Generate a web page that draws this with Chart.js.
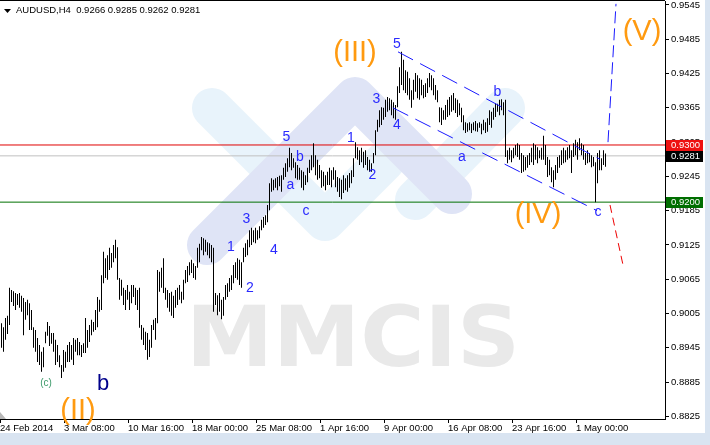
<!DOCTYPE html>
<html><head><meta charset="utf-8">
<script src="https://cdn.jsdelivr.net/npm/chart.js"></script>
<style>html,body{margin:0;padding:0;background:#d9e4f1;}canvas{display:block;}</style>
</head><body>
<canvas id="c" width="710" height="445"></canvas>
<script>
// ---- data ----
const symbolTitle = 'AUDUSD,H4';
const lastOHLC = [0.9266, 0.9285, 0.9262, 0.9281];

const highs = [
0.8988,0.8981,0.8997,0.9001,0.9050,0.9046,0.9044,0.9041,0.9039,0.9041,
0.9036,0.9032,0.9025,0.9029,0.9023,0.9011,0.8981,0.8976,0.8962,0.8950,
0.8938,0.8946,0.8973,0.8990,0.8983,0.8971,0.8971,0.8959,0.8950,0.8932,
0.8915,0.8941,0.8938,0.8950,0.8955,0.8950,0.8962,0.8959,0.8962,0.8955,
0.8950,0.8953,0.8997,0.8976,0.8985,0.8994,0.8990,0.9011,0.9034,0.9029,
0.9072,0.9113,0.9102,0.9107,0.9120,0.9111,0.9125,0.9134,0.9121,0.9067,
0.9064,0.9050,0.9046,0.9055,0.9043,0.9055,0.9055,0.9050,0.9046,0.9050,
0.8985,0.8980,0.8973,0.8971,0.8959,0.8985,0.8994,0.8997,0.9081,0.9078,
0.9085,0.9102,0.9050,0.9046,0.9041,0.9043,0.9036,0.9046,0.9050,0.9055,
0.9043,0.9064,0.9081,0.9088,0.9095,0.9099,0.9093,0.9088,0.9120,0.9127,
0.9139,0.9137,0.9134,0.9130,0.9128,0.9125,0.9120,0.9041,0.9037,0.9041,
0.9029,0.9034,0.9055,0.9058,0.9067,0.9072,0.9090,0.9095,0.9102,0.9099,
0.9095,0.9120,0.9128,0.9134,0.9151,0.9155,0.9151,0.9155,0.9151,0.9158,
0.9169,0.9174,0.9177,0.9195,0.9233,0.9242,0.9239,0.9242,0.9244,0.9246,
0.9247,0.9260,0.9268,0.9277,0.9295,0.9286,0.9277,0.9270,0.9265,0.9260,
0.9256,0.9253,0.9247,0.9260,0.9274,0.9282,0.9303,0.9282,0.9274,0.9265,
0.9256,0.9253,0.9247,0.9253,0.9260,0.9256,0.9261,0.9256,0.9244,0.9242,
0.9239,0.9247,0.9242,0.9247,0.9251,0.9256,0.9277,0.9305,0.9296,0.9291,
0.9295,0.9288,0.9291,0.9279,0.9274,0.9268,0.9286,0.9326,0.9344,0.9361,
0.9366,0.9365,0.9379,0.9384,0.9382,0.9379,0.9375,0.9370,0.9403,0.9436,
0.9463,0.9449,0.9431,0.9428,0.9417,0.9396,0.9414,0.9426,0.9422,0.9417,
0.9414,0.9405,0.9408,0.9417,0.9426,0.9422,0.9417,0.9405,0.9396,0.9366,
0.9365,0.9361,0.9370,0.9379,0.9384,0.9387,0.9391,0.9382,0.9379,0.9373,
0.9365,0.9352,0.9340,0.9338,0.9340,0.9337,0.9340,0.9342,0.9338,0.9340,
0.9337,0.9344,0.9340,0.9347,0.9361,0.9358,0.9365,0.9373,0.9372,0.9379,
0.9380,0.9375,0.9379,0.9291,0.9295,0.9291,0.9295,0.9300,0.9303,0.9300,
0.9286,0.9282,0.9279,0.9282,0.9286,0.9295,0.9303,0.9300,0.9296,0.9291,
0.9295,0.9316,0.9300,0.9279,0.9274,0.9261,0.9256,0.9265,0.9279,0.9282,
0.9291,0.9295,0.9291,0.9296,0.9300,0.9291,0.9303,0.9309,0.9305,0.9312,
0.9303,0.9300,0.9286,0.9291,0.9286,0.9282,0.9279,0.9270,0.9286,0.9291,
0.9277,0.9291,0.9285];

const lows = [
0.8945,0.8938,0.8959,0.8969,0.8985,0.9025,0.9018,0.9011,0.9020,0.9015,
0.9008,0.8967,0.8994,0.9002,0.8976,0.8976,0.8945,0.8938,0.8920,0.8915,
0.8903,0.8911,0.8953,0.8966,0.8948,0.8952,0.8938,0.8915,0.8920,0.8911,
0.8892,0.8903,0.8910,0.8920,0.8920,0.8924,0.8915,0.8938,0.8932,0.8932,
0.8929,0.8936,0.8936,0.8945,0.8955,0.8967,0.8973,0.8976,0.8981,0.9008,
0.9011,0.9058,0.9067,0.9064,0.9081,0.9085,0.9095,0.9102,0.9064,0.9029,
0.9036,0.9020,0.9011,0.9029,0.9011,0.9023,0.9034,0.9020,0.9011,0.8980,
0.8959,0.8950,0.8941,0.8924,0.8929,0.8945,0.8976,0.8959,0.8988,0.9043,
0.9050,0.9041,0.9029,0.9015,0.9008,0.9001,0.8997,0.9015,0.9020,0.9029,
0.9023,0.9029,0.9058,0.9060,0.9072,0.9076,0.9067,0.9064,0.9085,0.9095,
0.9116,0.9107,0.9113,0.9107,0.9102,0.9095,0.9008,0.9020,0.9002,0.9008,
0.8995,0.9001,0.9029,0.9034,0.9043,0.9046,0.9058,0.9067,0.9064,0.9055,
0.9050,0.9095,0.9104,0.9107,0.9121,0.9125,0.9130,0.9128,0.9134,0.9137,
0.9151,0.9155,0.9160,0.9165,0.9186,0.9218,0.9221,0.9225,0.9221,0.9228,
0.9218,0.9239,0.9244,0.9253,0.9261,0.9256,0.9260,0.9242,0.9239,0.9239,
0.9225,0.9221,0.9230,0.9235,0.9251,0.9256,0.9261,0.9247,0.9239,0.9242,
0.9225,0.9228,0.9221,0.9230,0.9230,0.9226,0.9239,0.9226,0.9218,0.9209,
0.9205,0.9216,0.9221,0.9218,0.9225,0.9233,0.9244,0.9277,0.9274,0.9265,
0.9270,0.9260,0.9265,0.9256,0.9253,0.9253,0.9268,0.9282,0.9323,0.9331,
0.9335,0.9344,0.9349,0.9358,0.9361,0.9352,0.9347,0.9344,0.9366,0.9391,
0.9405,0.9396,0.9391,0.9387,0.9379,0.9365,0.9379,0.9393,0.9382,0.9379,
0.9387,0.9382,0.9384,0.9391,0.9401,0.9396,0.9387,0.9379,0.9375,0.9340,
0.9335,0.9344,0.9344,0.9349,0.9352,0.9358,0.9361,0.9356,0.9349,0.9352,
0.9340,0.9326,0.9321,0.9323,0.9326,0.9321,0.9326,0.9324,0.9323,0.9330,
0.9319,0.9326,0.9321,0.9323,0.9335,0.9330,0.9344,0.9349,0.9358,0.9352,
0.9361,0.9352,0.9279,0.9268,0.9274,0.9270,0.9277,0.9282,0.9279,0.9274,
0.9251,0.9253,0.9256,0.9260,0.9265,0.9270,0.9265,0.9274,0.9268,0.9277,
0.9274,0.9274,0.9265,0.9244,0.9247,0.9235,0.9226,0.9239,0.9251,0.9260,
0.9265,0.9268,0.9270,0.9274,0.9277,0.9251,0.9279,0.9282,0.9274,0.9291,
0.9282,0.9274,0.9265,0.9268,0.9270,0.9261,0.9263,0.9200,0.9233,0.9256,
0.9256,0.9265,0.9262];

const dateLabels = ['24 Feb 2014','3 Mar 08:00','10 Mar 16:00','18 Mar 00:00','25 Mar 08:00',
  '1 Apr 16:00','9 Apr 00:00','16 Apr 08:00','23 Apr 16:00','1 May 00:00'];
const barsPerDateLabel = 32;
const yTickValues = [0.9545,0.9485,0.9425,0.9365,0.9305,0.9245,0.9185,0.9125,0.9065,0.9005,0.8945,0.8885,0.8825];

const levelResistance = 0.9300;
const levelSupport = 0.9200;
const lastClose = 0.9281;

// wave-channel and projection lines: [barIndex, price]
const channelUpper = [[198.25,0.9463],[299.25,0.9275]];
const channelLower = [[195.75,0.9365],[297.75,0.9185]];
const projectionUp = [[303.25,0.9305],[307.25,0.9547]];
const projectionDown = [[304.25,0.9195],[310.75,0.9090]];

// wave labels: [barIndex, price, text]
const minorLabels = [
 [197.75,0.9477,'5'],[187.5,0.9380,'3'],[197.75,0.9335,'4'],[174.75,0.9312,'1'],[185.5,0.9247,'2'],
 [142.5,0.9314,'5'],[149.25,0.9279,'b'],[144.5,0.9229,'a'],[152.25,0.9184,'c'],
 [122.5,0.9170,'3'],[114.75,0.9122,'1'],[136.25,0.9116,'4'],[124.25,0.9050,'2'],
 [248,0.9393,'b'],[230.25,0.9279,'a'],[298.25,0.9183,'c']];
const majorLabels = [[176.75,0.9461,'(III)'],[268.25,0.9178,'(IV)'],[320.25,0.9498,'(V)'],[38.25,0.8834,'(II)']];
const smallLabels = [[22.25,0.8883,'(c)']];
const navyLabels = [[50.75,0.8882,'b']];

// ---- chart ----
const X_MIN = -0.75, X_MAX = 331.75;
const Y_MIN = 0.882045, Y_MAX = 0.95520;
const FONT = '"Liberation Sans", Arial, sans-serif';

const bars = highs.map((h, i) => ({x: i, y: [lows[i], h]}));
const pts = arr => arr.map(p => ({x: p[0], y: p[1]}));
const hLine = v => [{x: X_MIN, y: v}, {x: X_MAX, y: v}];
const lineDs = (data, color, dash, order) => ({type: 'line', data, borderColor: color, borderWidth: 1,
  borderDash: dash, pointRadius: 0, fill: false, tension: 0, order});

const decor = {
  id: 'decor',
  beforeDraw(chart) {
    const ctx = chart.ctx, a = chart.chartArea;
    ctx.save();
    ctx.fillStyle = '#d9e4f1'; ctx.fillRect(0, 0, 710, 445);
    ctx.fillStyle = '#ffffff'; ctx.fillRect(0, 0, 705, 433);
    // watermark
    ctx.beginPath(); ctx.rect(a.left, a.top, a.right - a.left, a.bottom - a.top); ctx.clip();
    ctx.lineCap = 'round'; ctx.lineJoin = 'round'; ctx.lineWidth = 40;
    ctx.strokeStyle = '#e8f3fb';
    ctx.beginPath(); ctx.moveTo(212,108); ctx.lineTo(325,221); ctx.lineTo(385,161); ctx.stroke();
    ctx.beginPath(); ctx.moveTo(415,200); ctx.lineTo(505,108); ctx.stroke();
    ctx.strokeStyle = '#dfe4f6';
    ctx.beginPath(); ctx.moveTo(207,245); ctx.lineTo(355,97); ctx.lineTo(452,194); ctx.stroke();
    ctx.fillStyle = '#e9e9e9';
    ctx.font = 'bold 84px "DejaVu Sans"';
    ctx.textBaseline = 'alphabetic'; ctx.textAlign = 'left';
    const w = ctx.measureText('MMCIS').width;
    ctx.translate(186, 366); ctx.scale(334 / w, 1); ctx.fillText('MMCIS', 0, 0);
    ctx.restore();
  },
  afterDatasetsDraw(chart) {
    const ctx = chart.ctx, xs = chart.scales.x, ys = chart.scales.y;
    ctx.save();
    ctx.textAlign = 'center'; ctx.textBaseline = 'middle';
    const put = (list, font, color) => {
      ctx.font = font; ctx.fillStyle = color;
      list.forEach(l => ctx.fillText(l[2], xs.getPixelForValue(l[0]), ys.getPixelForValue(l[1])));
    };
    put(minorLabels, '14px ' + FONT, '#2a2aff');
    put(majorLabels, '29px ' + FONT, '#ff9a10');
    put(smallLabels, '10px ' + FONT, '#3c9a6a');
    put(navyLabels, '22px ' + FONT, '#00008b');
    ctx.restore();
  },
  afterDraw(chart) {
    const ctx = chart.ctx, a = chart.chartArea, ys = chart.scales.y;
    ctx.save();
    // top border
    ctx.fillStyle = '#000'; ctx.fillRect(0, 0, a.right, 1);
    // header
    ctx.beginPath(); ctx.moveTo(4, 9); ctx.lineTo(11, 9); ctx.lineTo(7.5, 13); ctx.closePath(); ctx.fill();
    ctx.font = '9.5px ' + FONT; ctx.textBaseline = 'middle'; ctx.textAlign = 'left';
    ctx.fillText(symbolTitle + '  ' + lastOHLC.map(v => v.toFixed(4)).join(' '), 16, 10.5);
    // price tags
    const tag = (v, bg) => {
      const y = Math.round(ys.getPixelForValue(v));
      ctx.fillStyle = bg; ctx.fillRect(a.right + 1, y - 5, 37, 11);
      ctx.fillStyle = '#fff'; ctx.fillText(v.toFixed(4), a.right + 6, y + 0.5);
    };
    tag(levelResistance, '#ee1111');
    tag(lastClose, '#000000');
    tag(levelSupport, '#006e00');
    // shift marker
    ctx.fillStyle = '#b8b8b8';
    ctx.beginPath(); ctx.moveTo(0, a.bottom - 7); ctx.lineTo(6, a.bottom); ctx.lineTo(0, a.bottom); ctx.closePath(); ctx.fill();
    ctx.restore();
  }
};

new Chart(document.getElementById('c'), {
  type: 'bar',
  data: {
    datasets: [
      lineDs(hLine(levelResistance), '#e00000', [], 5),
      lineDs(hLine(lastClose), '#c0c0c0', [], 5),
      lineDs(hLine(levelSupport), '#007000', [], 5),
      {type: 'bar', data: bars, backgroundColor: '#000', borderWidth: 0, barThickness: 1, inflateAmount: 0, order: 3},
      lineDs(pts(channelUpper), '#1a1aff', [17, 8], 1),
      lineDs(pts(channelLower), '#1a1aff', [17, 8], 1),
      lineDs(pts(projectionUp), '#1a1aff', [12, 5], 1),
      lineDs(pts(projectionDown), '#ee0000', [8, 5], 1)
    ]
  },
  options: {
    responsive: false, animation: false, devicePixelRatio: 1,
    layout: {padding: {left: 0, top: 1, right: 5, bottom: 12}},
    plugins: {legend: {display: false}, tooltip: {enabled: false}},
    scales: {
      x: {
        type: 'linear', min: X_MIN, max: X_MAX, offset: false, position: 'bottom',
        grid: {offset: false, drawOnChartArea: false, drawTicks: true, tickLength: 4, color: '#000'},
        border: {display: true, color: '#000', width: 1},
        afterBuildTicks: s => { s.ticks = dateLabels.map((_, k) => ({value: k * barsPerDateLabel - 0.75})); },
        afterFit: s => { s.height = 14; s.paddingLeft = 0; s.paddingRight = 0; },
        ticks: {
          autoSkip: false, maxRotation: 0, minRotation: 0, align: 'start', padding: 0,
          color: '#000', font: {family: FONT, size: 9.5},
          callback: v => dateLabels[Math.round((v + 0.75) / barsPerDateLabel)]
        }
      },
      y: {
        type: 'linear', position: 'right', min: Y_MIN, max: Y_MAX,
        grid: {drawOnChartArea: false, drawTicks: true, tickLength: 4, color: '#000'},
        border: {display: true, color: '#000', width: 1},
        afterBuildTicks: s => { s.ticks = yTickValues.map(v => ({value: v})); },
        afterFit: s => { s.width = 40; s.paddingTop = 0; s.paddingBottom = 0; },
        ticks: {padding: 2, color: '#000', font: {family: FONT, size: 9.5}, callback: v => v.toFixed(4)}
      }
    }
  },
  plugins: [decor]
});
</script>
</body></html>
